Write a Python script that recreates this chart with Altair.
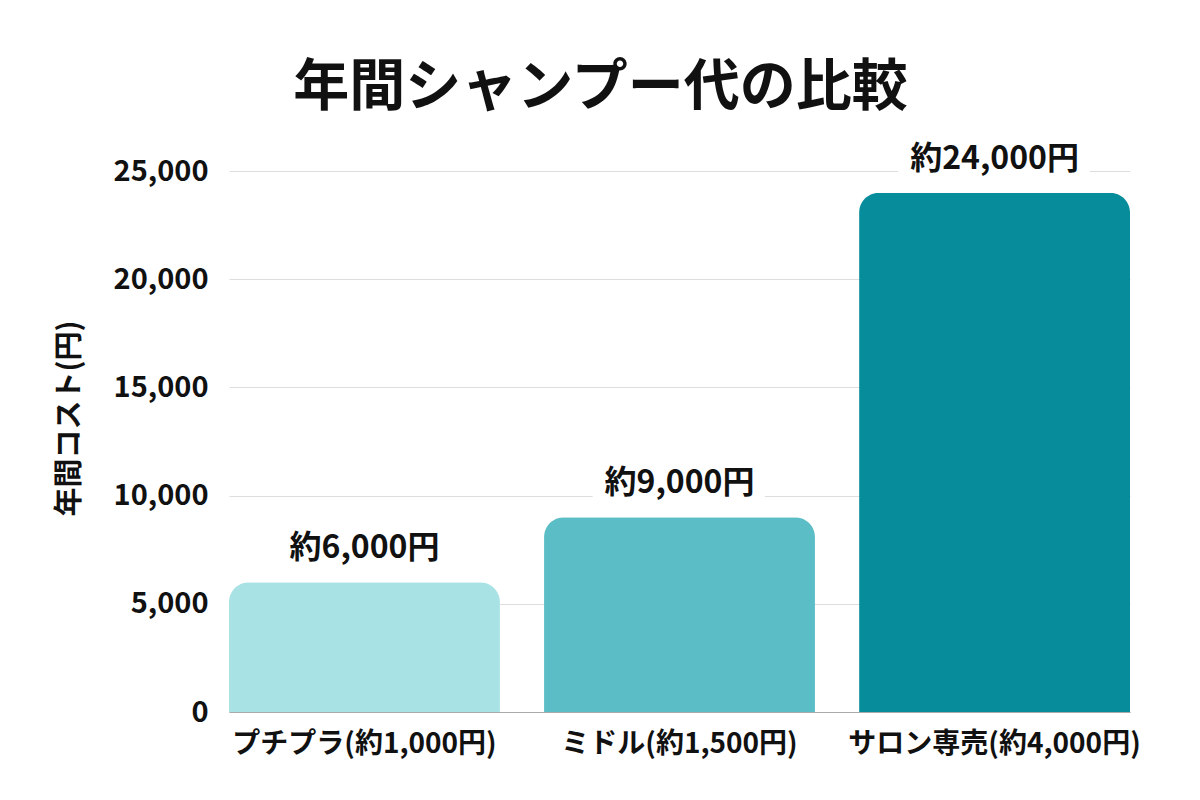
import altair as alt
import pandas as pd

# Annual shampoo cost by product tier
categories = ["プチプラ(約1,000円)", "ミドル(約1,500円)", "サロン専売(約4,000円)"]
annual_cost = [6000, 9000, 24000]
value_labels = ["約6,000円", "約9,000円", "約24,000円"]
bar_colors = ["#a8e2e4", "#5bbec6", "#078c9c"]

df = pd.DataFrame({"tier": categories, "cost": annual_cost, "label": value_labels})

FONT = "Noto Sans CJK JP"

x = alt.X(
    "tier:N",
    sort=categories,
    title=None,
    scale=alt.Scale(paddingInner=0.14, paddingOuter=0),
    axis=alt.Axis(
        labelAngle=0,
        labelFontSize=28,
        labelFontWeight="bold",
        labelColor="#111111",
        labelFont=FONT,
        labelPadding=18,
        labelLimit=0,
        ticks=False,
        domain=True,
        domainColor="#aaaaaa",
        grid=False,
    ),
)
y = alt.Y(
    "cost:Q",
    title="年間コスト(円)",
    scale=alt.Scale(domain=[0, 25000], nice=False),
    axis=alt.Axis(
        values=[0, 5000, 10000, 15000, 20000, 25000],
        format=",d",
        labelFontSize=29,
        labelFontWeight="bold",
        labelColor="#111111",
        labelFont=FONT,
        labelPadding=21,
        ticks=False,
        domain=False,
        grid=True,
        gridColor="#dddddd",
        gridWidth=1,
        titleFont=FONT,
        titleFontSize=29,
        titleFontWeight="bold",
        titleColor="#111111",
        titleX=-160,
        titleY=247,
        titleAngle=-90,
        titleAlign="center",
        titleBaseline="middle",
    ),
)

bars = alt.Chart(df).mark_bar(cornerRadiusTopLeft=20, cornerRadiusTopRight=20).encode(
    x=x,
    y=y,
    color=alt.Color("tier:N", sort=categories,
                    scale=alt.Scale(domain=categories, range=bar_colors), legend=None),
)

# white halo behind value labels so gridlines break around the text
halo = alt.Chart(df).mark_text(
    font=FONT, fontSize=32, fontWeight="bold", baseline="middle", dy=-34,
    stroke="white", strokeWidth=26, strokeJoin="round", color="white",
).encode(x=alt.X("tier:N", sort=categories), y="cost:Q", text="label:N")

labels = alt.Chart(df).mark_text(
    font=FONT, fontSize=32, fontWeight="bold", baseline="middle", dy=-34, color="#111111",
).encode(x=alt.X("tier:N", sort=categories), y="cost:Q", text="label:N")

chart = alt.layer(bars, halo, labels).properties(
    width=901,
    height=541,
    background="white",
    autosize=alt.AutoSizeParams(type="none"),
    padding={"left": 229, "top": 171, "right": 70, "bottom": 88},
    title=alt.TitleParams(
        "年間シャンプー代の比較",
        font=FONT,
        fontSize=56,
        fontWeight="bold",
        color="#111111",
        anchor="middle",
        dx=-79,
        offset=26,
    ),
).configure_view(stroke=None)

chart.save("out.html", embed_options={"renderer": "svg", "actions": False})
